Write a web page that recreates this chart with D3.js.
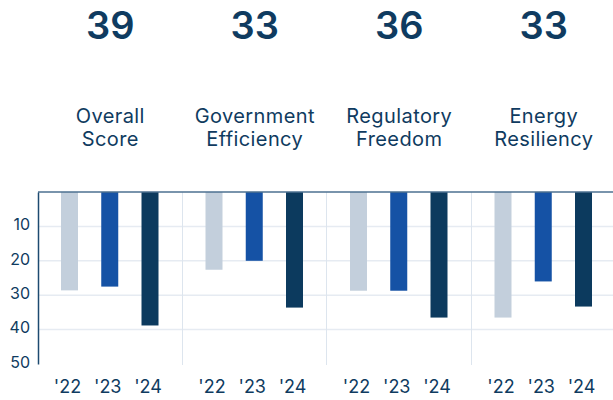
<!DOCTYPE html>
<html>
<head>
<meta charset="utf-8">
<script src="https://cdn.jsdelivr.net/npm/d3@7"></script>
<style>
  body { margin: 0; background: #fff; }
  svg { font-family: Inter, "Noto Sans", sans-serif; }
</style>
</head>
<body>
<div id="chart"></div>
<script>
// data
var categories = ["Overall Score", "Government Efficiency", "Regulatory Freedom", "Energy Resiliency"];
var titleLines = [["Overall", "Score"], ["Government", "Efficiency"], ["Regulatory", "Freedom"], ["Energy", "Resiliency"]];
var headline = [39, 33, 36, 33];
var years = ["'22", "'23", "'24"];
var v2022 = [28.6, 22.6, 28.7, 36.5];
var v2023 = [27.5, 20, 28.7, 26];
var v2024 = [38.8, 33.6, 36.5, 33.3];
var yTicks = [10, 20, 30, 40, 50];

var svgWidth = 613, svgHeight = 400;
var colors = ["#c3cfdc", "#1552a5", "#0c3a5e"];
var ink = "#0f3b60";

var svg = d3.select("#chart").append("svg")
  .attr("width", svgWidth)
  .attr("height", svgHeight);

var x = d3.scaleBand().domain(categories).range([38, 616]);
var xYear = d3.scalePoint().domain(years).range([31.5, 112]);
var y = d3.scaleLinear().domain([0, 50]).range([192, 364]);

// horizontal gridlines
svg.append("g").selectAll("line")
  .data(yTicks.filter(d => d < 50))
  .enter().append("line")
  .attr("x1", 38).attr("x2", svgWidth)
  .attr("y1", d => y(d)).attr("y2", d => y(d))
  .attr("stroke", "#e6ebf2").attr("stroke-width", 1.5);

// vertical separators
svg.append("g").selectAll("line")
  .data(categories.slice(1))
  .enter().append("line")
  .attr("x1", d => Math.round(x(d)) - 0.5).attr("x2", d => Math.round(x(d)) - 0.5)
  .attr("y1", y(0)).attr("y2", y(50) + 1)
  .attr("stroke", "#dde5ee").attr("stroke-width", 1);

// bars
var series = [v2022, v2023, v2024];
categories.forEach(function(cat, i) {
  var g = svg.append("g").attr("transform", "translate(" + x(cat) + ",0)");
  g.selectAll("rect")
    .data(years)
    .enter().append("rect")
    .attr("x", d => xYear(d) - 8.5)
    .attr("width", 17)
    .attr("y", y(0))
    .attr("height", (d, j) => y(series[j][i]) - y(0))
    .attr("fill", (d, j) => colors[j]);

  g.selectAll("text.yr")
    .data(years)
    .enter().append("text")
    .attr("class", "yr")
    .attr("x", d => xYear(d) - 2)
    .attr("y", 393)
    .attr("text-anchor", "middle")
    .attr("font-size", 18)
    .attr("fill", ink)
    .text(d => d);

  var cx = x.bandwidth() / 2;
  g.append("text")
    .attr("x", cx).attr("y", 39)
    .attr("text-anchor", "middle")
    .attr("font-size", 38)
    .attr("font-weight", 600)
    .attr("fill", ink)
    .text(headline[i]);

  g.append("text")
    .attr("text-anchor", "middle")
    .attr("font-size", 20)
    .attr("letter-spacing", 0.4)
    .attr("fill", ink)
    .selectAll("tspan")
    .data(titleLines[i])
    .enter().append("tspan")
    .attr("x", cx)
    .attr("y", (d, k) => 123 + k * 23)
    .text(d => d);
});

// top baseline
svg.append("line")
  .attr("x1", 38).attr("x2", svgWidth)
  .attr("y1", y(0)).attr("y2", y(0))
  .attr("stroke", "#4d7190").attr("stroke-width", 1.5);

// left axis
var leftAxis = d3.axisLeft(y).tickValues(yTicks).tickSize(0).tickPadding(8);
var ax = svg.append("g")
  .attr("transform", "translate(38,0)")
  .call(leftAxis);
ax.select(".domain").attr("stroke", "#1d4a70").attr("stroke-width", 1.5);
ax.selectAll("text")
  .attr("font-size", 16)
  .attr("font-family", "Inter, 'Noto Sans', sans-serif")
  .attr("fill", ink)
  .attr("dy", "0.2em");
</script>
</body>
</html>
